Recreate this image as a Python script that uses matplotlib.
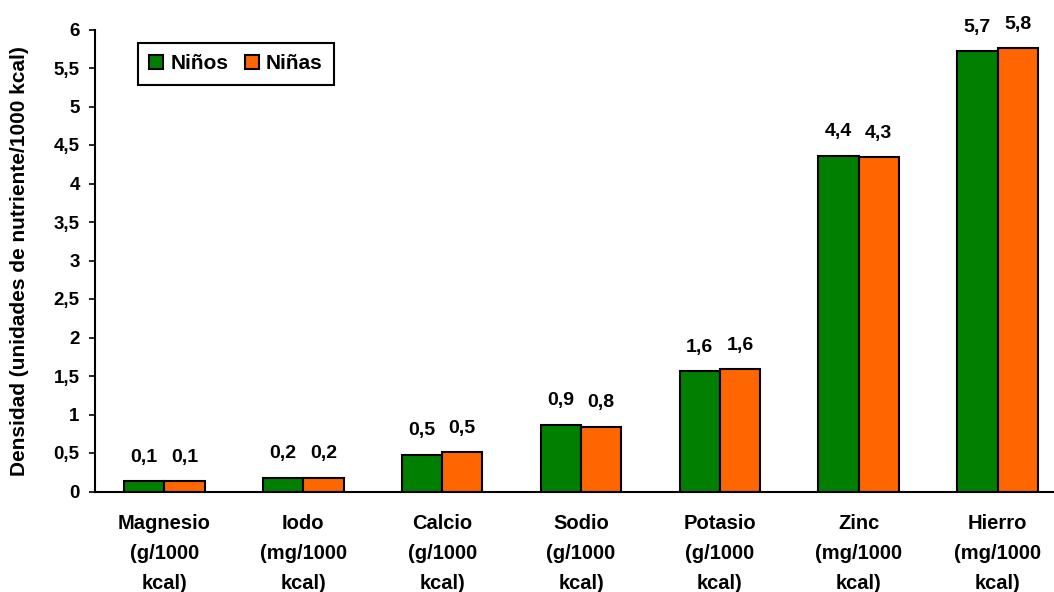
import numpy as np
import matplotlib
matplotlib.use('Agg')
import matplotlib.pyplot as plt
from matplotlib.patches import Patch

plt.rcParams['font.family'] = ['Liberation Sans', 'DejaVu Sans']
plt.rcParams['font.weight'] = 'bold'

# -----------------------------------------------------------------------------

categories = ['Magnesio\n(g/1000\nkcal)', 'Iodo\n(mg/1000\nkcal)',
              'Calcio\n(g/1000\nkcal)', 'Sodio\n(g/1000\nkcal)',
              'Potasio\n(g/1000\nkcal)', 'Zinc\n(mg/1000\nkcal)',
              'Hierro\n(mg/1000\nkcal)']
ninos = [0.13, 0.18, 0.48, 0.87, 1.56, 4.36, 5.72]
ninas = [0.13, 0.18, 0.51, 0.84, 1.59, 4.34, 5.76]

yticks = [0, 0.5, 1, 1.5, 2, 2.5, 3, 3.5, 4, 4.5, 5, 5.5, 6]

green = '#007F00'
orange = '#FF6600'

# -----------------------------------------------------------------------------

def fmt(v):
    return ('%.1f' % v).replace('.', ',')

fig = plt.figure(figsize=(10.54, 5.92), dpi=100)
ax = fig.add_axes([95 / 1054, 1 - 491.5 / 592, 972 / 1054, 462 / 592])

x = np.arange(len(categories))
w = 0.29

b1 = ax.bar(x - w / 2, ninos, w, color=green, edgecolor='black', linewidth=1.5)
b2 = ax.bar(x + w / 2, ninas, w, color=orange, edgecolor='black', linewidth=1.5)

for bars, vals in ((b1, ninos), (b2, ninas)):
    for rect, v in zip(bars, vals):
        ax.annotate(fmt(v), (rect.get_x() + rect.get_width() / 2, v),
                    xytext=(0, 14), textcoords='offset points',
                    ha='center', va='baseline', fontsize=14,
                    fontweight='bold')

ax.set_xlim(-0.5, len(categories) - 0.5)
ax.set_ylim(0, 6)

ax.set_yticks(yticks)
ax.set_yticklabels([fmt(t) if t % 1 else str(int(t)) for t in yticks],
                   fontsize=13.5, fontweight='bold')
ax.tick_params(axis='y', length=4, width=1.2, pad=7)

ax.set_xticks(x)
ax.set_xticklabels(categories, fontsize=14.5, fontweight='bold',
                   linespacing=1.75)
ax.tick_params(axis='x', length=0, pad=16)

ax.spines['top'].set_visible(False)
ax.spines['right'].set_visible(False)
ax.spines['left'].set_linewidth(1.5)
ax.spines['bottom'].set_linewidth(1.5)

fig.text(20 / 1054, 1 - 261 / 592,
         'Densidad (unidades de nutriente/1000 kcal)',
         rotation=90, ha='center', va='center', fontsize=15,
         fontweight='bold')

handles = [Patch(facecolor=green, edgecolor='black', linewidth=1.5),
           Patch(facecolor=orange, edgecolor='black', linewidth=1.5)]
leg = ax.legend(handles, ['Niños', 'Niñas'], ncol=2, loc='upper left',
                bbox_to_anchor=(138 / 1054, 1 - 43 / 592),
                bbox_transform=fig.transFigure,
                prop={'size': 15, 'weight': 'bold'},
                fancybox=False, framealpha=1, edgecolor='black',
                handlelength=0.65, handleheight=0.65, handletextpad=0.35,
                columnspacing=0.8, borderpad=0.55, borderaxespad=0)
leg.get_frame().set_linewidth(1.5)

fig.savefig('out.png', dpi=100)
